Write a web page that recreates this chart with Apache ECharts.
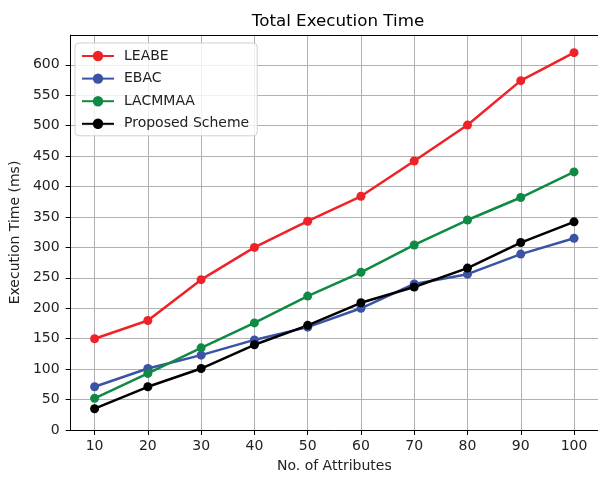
<!DOCTYPE html>
<html><head><meta charset="utf-8">
<script src="https://cdn.jsdelivr.net/npm/echarts@6/dist/echarts.min.js"></script>
<style>html,body{margin:0;padding:0;background:#fff}#c{width:598px;height:478px}</style>
</head><body><div id="c"></div>
<script>
const attributes = [10,20,30,40,50,60,70,80,90,100];
const leabe    = [150,180,247,300,343,384,442,501,574,620];
const ebac     = [71,101,123,148,169,200,240,256,289,315];
const lacmmaa  = [52,93,135,176,220,259,304,345,382,424];
const proposed = [35,71,101,140,172,209,235,266,308,342];
const seriesNames = ['LEABE','EBAC','LACMMAA','Proposed Scheme'];
const seriesData = [leabe, ebac, lacmmaa, proposed];
const colors = ['#ee2227','#3a53a4','#0f8a44','#000000'];

const font = 'DejaVu Sans';
const chart = echarts.init(document.getElementById('c'));
chart.setOption({
  animation:false,
  title:{text:'Total Execution Time',left:333,top:8,textAlign:'center',
    textStyle:{fontFamily:font,fontSize:16.7,fontWeight:'normal',color:'#000'}},
  grid:{left:68,right:-2.5,top:35,bottom:45.5},
  legend:{left:75,top:43,orient:'vertical',itemWidth:32,itemHeight:13,itemGap:8.6,
    padding:[6,8,5,6],borderColor:'#d0d0d0',borderWidth:1,borderRadius:4,backgroundColor:'rgba(255,255,255,0.8)',
    textStyle:{fontFamily:font,fontSize:14,lineHeight:14,color:'#222',padding:[0,0,0,5]},data:seriesNames},
  xAxis:[{type:'value',min:5.5,max:104.5,
    name:'No. of Attributes',nameLocation:'middle',nameGap:29,
    nameTextStyle:{fontFamily:font,fontSize:14,color:'#222'},
    axisLine:{lineStyle:{color:'#000'}},
    axisTick:{customValues:attributes,length:5,lineStyle:{color:'#000'}},
    axisLabel:{customValues:attributes,fontFamily:font,fontSize:14,color:'#222',margin:9.5},
    splitLine:{show:true,lineStyle:{color:'#b0b0b0',width:1}}},
   {type:'value',position:'top',min:5.5,max:104.5,
    axisLine:{show:true,lineStyle:{color:'#000'}},axisTick:{show:false},axisLabel:{show:false},splitLine:{show:false}}],
  yAxis:{type:'value',min:0,max:649,interval:50,
    name:'Execution Time (ms)',nameLocation:'middle',nameGap:47,
    nameTextStyle:{fontFamily:font,fontSize:14,color:'#222'},
    axisLine:{show:true,lineStyle:{color:'#000'}},
    axisTick:{show:true,length:5,lineStyle:{color:'#000'}},
    axisLabel:{showMaxLabel:false,fontFamily:font,fontSize:14,color:'#222',margin:11,
      formatter:v=> (v%50===0? String(v):'')},
    splitLine:{show:true,lineStyle:{color:'#b0b0b0',width:1}}},
  series: seriesNames.map((n,i)=>({
    name:n,type:'line',xAxisIndex:0,data:attributes.map((x,j)=>[x,seriesData[i][j]]),
    symbol:'circle',symbolSize:9,color:colors[i],
    lineStyle:{width:2.5,color:colors[i]},itemStyle:{color:colors[i]}
  }))
});
</script></body></html>
